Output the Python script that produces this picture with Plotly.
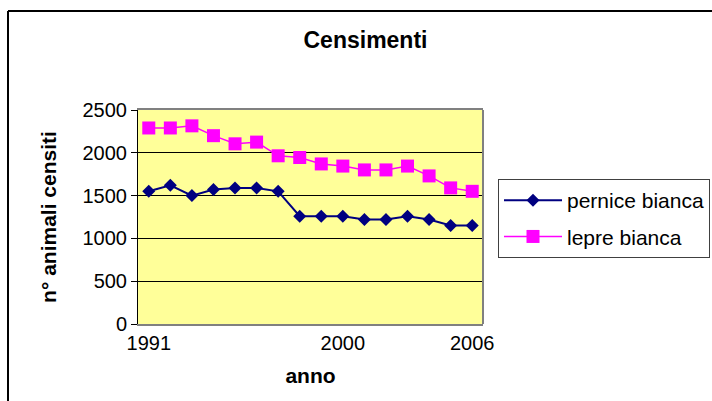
import plotly.graph_objects as go

# Census counts per year
years = list(range(1991, 2007))
pernice_bianca = [1550, 1620, 1500, 1570, 1590, 1590, 1550, 1260, 1260, 1260, 1220, 1220, 1260, 1220, 1150, 1150]
lepre_bianca = [2290, 2290, 2315, 2200, 2105, 2125, 1965, 1945, 1870, 1845, 1800, 1800, 1845, 1730, 1590, 1550]

x_tick_years = [1991, 2000, 2006]
y_ticks = [0, 500, 1000, 1500, 2000, 2500]

FONT = "Liberation Sans, Arial, sans-serif"

fig = go.Figure()
fig.add_trace(go.Scatter(
    x=years, y=pernice_bianca, name="pernice bianca", legendgroup="p",
    mode="lines+markers",
    line=dict(color="#000080", width=2),
    marker=dict(symbol="diamond", size=10, color="#000080"),
))
fig.add_trace(go.Scatter(
    x=years, y=lepre_bianca, name="lepre bianca", legendgroup="l",
    mode="lines+markers",
    line=dict(color="#FF00FF", width=1.5),
    marker=dict(symbol="square", size=13, color="#FF00FF"),
))

# plot area: left=138, right=483, top=110, bottom=324 (pixels)
L, R, T, B = 138, 483, 110, 324
W, H = 712, 401
pw, ph = R - L, B - T

def px_x(p):
    return (p - L) / pw

def px_y(p):
    return (B - p) / ph

fig.update_layout(
    width=W, height=H,
    margin=dict(l=L, r=W - R, t=T, b=H - B, pad=0, autoexpand=False),
    paper_bgcolor="white",
    plot_bgcolor="#FFFF99",
    font=dict(family=FONT, size=20, color="black"),
    title=dict(text="<b>Censimenti</b>", x=365.5 / W, xanchor="center",
               y=1 - 40 / H, yanchor="middle", font=dict(size=23)),
    showlegend=True,
    legend=dict(
        x=px_x(498), y=px_y(179), xanchor="left", yanchor="top",
        bgcolor="white", bordercolor="#404040", borderwidth=1,
        font=dict(size=21), tracegroupgap=6, traceorder="grouped",
        itemwidth=58,
    ),
    xaxis=dict(
        range=[years[0] - 0.5, years[-1] + 0.5],
        tickvals=x_tick_years, ticktext=[str(v) for v in x_tick_years],
        ticks="", showgrid=False, zeroline=False,
        showline=True, linecolor="#808080", linewidth=2, mirror=True,
        title=dict(text="<b>anno</b>", font=dict(size=21), standoff=15),
    ),
    yaxis=dict(
        range=[0, 2500], tickvals=y_ticks,
        ticks="outside", ticklen=6, tickcolor="black",
        showgrid=True, gridcolor="black", gridwidth=1, zeroline=False,
        showline=True, linecolor="black", linewidth=1,
        title=dict(text="<b>n° animali censiti</b>", font=dict(size=21), standoff=20),
    ),
    shapes=[
        # right edge of the plot frame
        dict(type="line", xref="paper", yref="paper", x0=1, x1=1, y0=0, y1=1,
             line=dict(color="#808080", width=2), layer="above"),
        # outer chart border (top and left)
        dict(type="line", xref="paper", yref="paper",
             x0=px_x(8), x1=px_x(W + 5), y0=px_y(11), y1=px_y(11),
             line=dict(color="black", width=2)),
        dict(type="line", xref="paper", yref="paper",
             x0=px_x(8), x1=px_x(8), y0=px_y(11), y1=px_y(H + 5),
             line=dict(color="black", width=2)),
    ],
)

fig.write_html("out.html")
